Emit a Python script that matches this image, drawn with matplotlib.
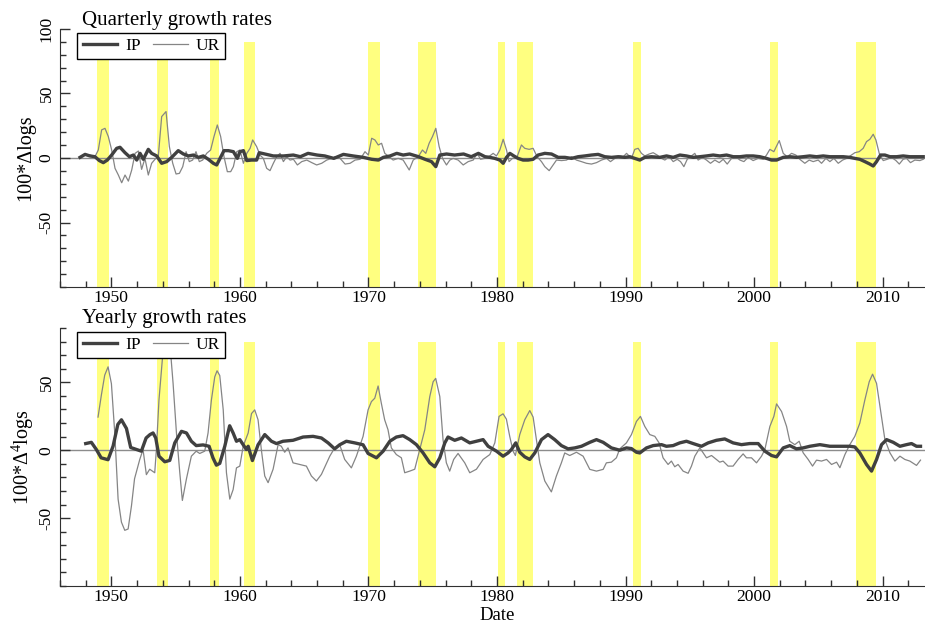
import numpy as np
import matplotlib
matplotlib.use("Agg")
import matplotlib.pyplot as plt
from matplotlib.ticker import MultipleLocator, FixedLocator

plt.rcParams['font.family'] = ['Liberation Serif', 'DejaVu Serif']
plt.rcParams['mathtext.fontset'] = 'custom'
plt.rcParams['mathtext.rm'] = 'Liberation Serif'
plt.rcParams['mathtext.it'] = 'Liberation Serif:italic'
plt.rcParams['axes.unicode_minus'] = False

# recession bands (years)
rec_start = [1948.9, 1953.52, 1957.67, 1960.3, 1969.97, 1973.87, 1980.09, 1981.52, 1990.6, 2001.23, 2007.92]
rec_end = [1949.84, 1954.38, 1958.37, 1961.18, 1970.9, 1975.24, 1980.61, 1982.81, 1991.19, 2001.83, 2009.46]

# quarterly growth rates, (year, value)
ip_q = [(1947.56, 0.5), (1947.95, 2.8), (1948.33, 1.6), (1948.72, 1.0), (1949.06, -2.0), (1949.37, -3.6),
        (1949.68, -1.6), (1950.02, 2.3), (1950.41, 7.5), (1950.67, 8.3), (1951.06, 4.1), (1951.4, 1.0),
        (1951.71, 2.3), (1951.97, -1.6), (1952.23, 3.6), (1952.48, -1.0), (1952.87, 6.7), (1953.13, 3.6),
        (1953.52, 1.6), (1953.91, -4.1), (1954.3, -2.8), (1954.69, 0.5), (1955.2, 5.7), (1955.6, 3.1),
        (1955.99, 1.6), (1956.38, 2.3), (1956.77, 0.5), (1957.15, 1.6), (1957.54, -1.0), (1957.93, -4.1),
        (1958.19, -5.4), (1958.45, -0.3), (1958.76, 5.7), (1959.1, 5.7), (1959.49, 4.9), (1959.8, -0.3),
        (1960.0, 4.9), (1960.27, 5.7), (1960.53, -2.0), (1960.9, -1.6), (1961.3, -1.6), (1961.5, 4.1),
        (1961.95, 3.1), (1962.6, 1.6), (1963.4, 1.6), (1964.15, 2.3), (1964.7, 1.0), (1965.3, 3.6),
        (1966.0, 2.3), (1966.6, 1.6), (1967.3, -0.3), (1968.05, 2.8), (1968.8, 1.6), (1969.6, 0.5),
        (1970.25, -1.0), (1970.77, -1.6), (1971.16, 0.5), (1971.68, 1.6), (1972.2, 3.6), (1972.7, 2.3),
        (1973.2, 3.1), (1973.9, 1.0), (1974.4, -1.0), (1974.9, -2.8), (1975.24, -6.7), (1975.55, 2.3),
        (1976.07, 3.1), (1976.7, 2.3), (1977.4, 3.1), (1978.0, 1.0), (1978.55, 3.6), (1979.07, 1.0),
        (1979.44, 0.5), (1979.83, -0.3), (1980.22, -1.6), (1980.48, -4.1), (1980.74, 0.5), (1981.0, 3.6),
        (1981.31, 1.6), (1981.64, -0.3), (1982.03, -1.6), (1982.42, -1.6), (1982.81, -1.0), (1983.2, 2.3),
        (1983.72, 3.6), (1984.24, 3.1), (1984.76, 0.5), (1985.28, 0.5), (1985.8, -0.3), (1986.31, 1.0),
        (1986.83, 1.6), (1987.35, 2.3), (1987.87, 2.8), (1988.39, 1.0), (1988.91, 0.5), (1989.43, 1.0),
        (1989.95, 0.5), (1990.33, 1.0), (1990.72, -0.3), (1991.11, -1.6), (1991.5, 0.5), (1992.02, 1.0),
        (1992.67, 0.5), (1993.19, 1.6), (1993.71, 0.5), (1994.23, 2.3), (1994.74, 1.6), (1995.26, 0.5),
        (1995.78, 1.0), (1996.3, 1.6), (1996.82, 2.3), (1997.34, 1.6), (1997.86, 2.3), (1998.38, 1.0),
        (1998.9, 1.0), (1999.41, 1.6), (1999.93, 1.6), (2000.45, 1.0), (2000.97, -0.3), (2001.36, -1.6),
        (2001.75, -1.6), (2002.27, 0.5), (2002.79, 1.0), (2003.3, 0.5), (2003.82, 1.0), (2004.34, 1.6),
        (2004.86, 1.0), (2005.38, 1.6), (2005.9, 1.0), (2006.42, 1.0), (2006.94, 1.0), (2007.45, 0.5),
        (2007.84, -0.3), (2008.23, -1.0), (2008.62, -2.8), (2009.01, -4.7), (2009.27, -6.2), (2009.53, -2.8),
        (2009.84, 2.3), (2010.18, 2.3), (2010.57, 1.0), (2011.09, 1.0), (2011.6, 1.6), (2012.12, 1.0),
        (2012.64, 1.0), (2013.16, 1.0)]

ur_q = [(1948.33, 2.3), (1948.72, 1.0), (1948.98, 6.2), (1949.24, 21.8), (1949.5, 23.0), (1949.76, 16.6),
        (1950.02, 6.2), (1950.28, -8.0), (1950.54, -13.2), (1950.8, -19.2), (1951.06, -13.2), (1951.32, -17.9),
        (1951.58, -9.3), (1951.84, 3.6), (1952.1, 5.4), (1952.35, -8.8), (1952.61, -0.3), (1952.87, -13.2),
        (1953.13, -4.1), (1953.39, -1.0), (1953.65, 1.6), (1953.91, 32.1), (1954.25, 36.0), (1954.51, 8.8),
        (1954.77, -4.1), (1955.03, -12.4), (1955.29, -11.9), (1955.55, -6.7), (1955.81, 4.9), (1956.06, -2.8),
        (1956.32, -1.6), (1956.58, 4.9), (1956.84, -2.8), (1957.1, -1.6), (1957.41, 3.6), (1957.72, 6.2),
        (1957.98, 16.6), (1958.24, 25.6), (1958.5, 16.6), (1958.76, 1.0), (1959.02, -10.6), (1959.28, -10.6),
        (1959.49, -6.7), (1959.75, 4.9), (1960.0, 6.2), (1960.27, -4.1), (1960.53, 3.6), (1960.79, 7.5),
        (1960.99, 14.0), (1961.3, 8.8), (1961.56, 2.3), (1961.82, -0.3), (1962.08, -8.0), (1962.34, -9.8),
        (1962.6, -4.1), (1962.86, 1.0), (1963.12, 3.6), (1963.38, -2.8), (1963.64, 1.0), (1963.9, -1.6),
        (1964.16, -1.0), (1964.47, -5.4), (1964.81, -2.8), (1965.2, -1.6), (1965.59, -3.6), (1965.97, -5.4),
        (1966.36, -4.1), (1966.75, -1.6), (1967.14, -0.3), (1967.4, 1.0), (1967.79, -0.3), (1968.18, -4.7),
        (1968.57, -4.1), (1968.96, -1.6), (1969.35, -1.0), (1969.73, 4.9), (1969.99, 2.3), (1970.25, 15.3),
        (1970.5, 14.0), (1970.76, 10.1), (1971.02, 11.4), (1971.27, 3.6), (1971.53, 1.6), (1971.92, -1.6),
        (1972.31, -0.3), (1972.7, -1.6), (1973.17, -9.3), (1973.48, -1.6), (1973.87, 1.0), (1974.2, 6.2),
        (1974.46, 3.6), (1974.72, 11.4), (1974.98, 16.6), (1975.24, 23.0), (1975.5, 8.8), (1975.76, -0.3),
        (1976.07, -5.4), (1976.33, -1.6), (1976.59, -0.3), (1976.98, -1.6), (1977.37, -5.4), (1977.76, -2.8),
        (1978.15, -1.6), (1978.46, 3.6), (1978.72, -1.0), (1979.05, -0.3), (1979.44, 1.6), (1979.7, 3.6),
        (1979.96, 1.6), (1980.22, 6.2), (1980.48, 14.5), (1980.74, 6.2), (1980.94, -2.8), (1981.2, -0.3),
        (1981.52, -0.3), (1981.9, 10.1), (1982.16, 7.5), (1982.5, 6.7), (1982.81, 7.5), (1983.12, 1.0),
        (1983.46, -2.8), (1983.72, -6.7), (1984.06, -9.8), (1984.37, -5.4), (1984.63, -1.6), (1985.02, -2.0),
        (1985.41, -1.6), (1985.8, 1.0), (1986.18, -1.6), (1986.57, -2.8), (1986.96, -4.1), (1987.35, -4.7),
        (1987.74, -3.6), (1988.13, -1.6), (1988.52, -0.3), (1988.83, -2.8), (1989.17, -0.3), (1989.56, 1.6),
        (1989.82, 1.0), (1990.08, 3.6), (1990.46, -0.3), (1990.72, 6.7), (1990.98, 7.5), (1991.24, 3.6),
        (1991.5, 1.6), (1991.84, 3.1), (1992.15, 4.1), (1992.46, 2.3), (1992.8, -0.3), (1993.06, -1.6),
        (1993.4, 1.0), (1993.71, -2.8), (1994.02, -1.0), (1994.28, -2.8), (1994.54, -6.7), (1994.8, -1.0),
        (1995.13, 1.6), (1995.39, 3.6), (1995.65, -1.6), (1995.99, 0.5), (1996.3, -1.6), (1996.61, -4.1),
        (1996.95, -1.6), (1997.29, -3.6), (1997.6, -1.0), (1997.91, -4.7), (1998.25, -0.3), (1998.58, 1.0),
        (1998.9, -1.6), (1999.21, -2.8), (1999.54, 0.5), (1999.93, -2.0), (2000.32, -0.3), (2000.71, -1.0),
        (2000.97, 2.3), (2001.23, 6.7), (2001.54, 4.9), (2001.96, 13.5), (2002.27, 3.6), (2002.58, 1.0),
        (2002.92, 3.6), (2003.25, 2.3), (2003.56, -1.0), (2003.95, -4.1), (2004.29, -1.6), (2004.6, -2.8),
        (2004.99, -1.6), (2005.25, -4.1), (2005.59, -0.3), (2005.9, -2.8), (2006.21, -0.3), (2006.55, -4.1),
        (2006.89, -1.6), (2007.2, -0.3), (2007.58, 2.3), (2007.84, 4.1), (2008.18, 4.9), (2008.49, 7.5),
        (2008.75, 12.7), (2009.01, 14.5), (2009.27, 18.4), (2009.48, 14.0), (2009.74, 3.6), (2010.05, -2.0),
        (2010.36, -1.0), (2010.7, 0.5), (2011.04, -2.0), (2011.3, -4.7), (2011.6, -1.0), (2011.86, -0.3),
        (2012.17, -3.6), (2012.51, -1.6), (2012.9, -2.0), (2013.16, -1.0)]

# yearly growth rates
ip_y = [(1948.0, 4.9), (1948.44, 5.8), (1948.83, 0.5), (1949.2, -5.6), (1949.74, -7.0), (1950.13, 3.0),
        (1950.5, 19.0), (1950.78, 22.4), (1951.17, 16.0), (1951.5, 2.0), (1951.95, 0.5), (1952.33, -0.7),
        (1952.7, 9.0), (1953.0, 11.5), (1953.24, 12.7), (1953.45, 9.0), (1953.7, -4.4), (1954.15, -8.5),
        (1954.54, -7.5), (1954.93, 5.4), (1955.45, 13.9), (1955.84, 12.7), (1956.22, 6.6), (1956.6, 3.4),
        (1957.13, 3.9), (1957.6, 2.9), (1957.9, -5.6), (1958.17, -11.0), (1958.43, -9.7), (1958.82, 2.9),
        (1959.2, 18.0), (1959.47, 12.7), (1959.73, 6.6), (1959.99, 7.8), (1960.5, 0.5), (1960.64, 2.9),
        (1960.97, -7.6), (1961.41, 4.0), (1961.93, 11.5), (1962.45, 6.6), (1962.84, 4.9), (1963.35, 6.6),
        (1964.13, 7.3), (1964.91, 9.7), (1965.69, 10.2), (1966.34, 9.0), (1966.86, 5.4), (1967.37, 1.0),
        (1967.76, 4.0), (1968.28, 6.6), (1968.93, 5.4), (1969.58, 4.0), (1969.97, -2.4), (1970.62, -5.6),
        (1971.14, -0.7), (1971.66, 6.6), (1972.17, 9.7), (1972.69, 10.7), (1973.21, 7.8), (1973.73, 4.1),
        (1974.25, -2.0), (1974.77, -9.3), (1975.16, -12.2), (1975.55, -5.6), (1975.94, 5.4), (1976.19, 9.7),
        (1976.71, 7.3), (1977.23, 9.0), (1977.88, 5.4), (1978.4, 6.6), (1978.92, 7.8), (1979.31, 2.9),
        (1979.96, -0.7), (1980.47, -4.4), (1980.86, -2.0), (1981.12, 0.5), (1981.46, 5.4), (1981.77, -1.5),
        (1982.16, -4.9), (1982.55, -6.8), (1982.94, -2.0), (1983.46, 7.8), (1983.97, 11.5), (1984.49, 7.8),
        (1985.01, 3.4), (1985.53, 1.0), (1986.05, 1.7), (1986.57, 2.9), (1987.22, 5.8), (1987.74, 7.8),
        (1988.26, 5.8), (1988.9, 1.7), (1989.55, 0.0), (1990.07, 1.7), (1990.46, 1.2), (1990.85, -1.5),
        (1991.11, -2.0), (1991.63, 1.7), (1992.15, 3.4), (1992.8, 4.1), (1993.18, 2.9), (1993.7, 3.4),
        (1994.22, 5.4), (1994.74, 6.6), (1995.26, 4.9), (1995.91, 2.9), (1996.43, 5.4), (1997.07, 7.3),
        (1997.72, 8.3), (1998.37, 5.4), (1999.02, 4.1), (1999.67, 4.9), (2000.32, 4.9), (2000.84, -0.7),
        (2001.36, -3.9), (2001.75, -4.9), (2002.27, 1.7), (2002.78, 3.4), (2003.3, 1.0), (2003.82, 1.7),
        (2004.34, 2.9), (2005.12, 4.1), (2005.9, 2.9), (2006.68, 2.9), (2007.45, 2.9), (2007.84, 2.4),
        (2008.23, -2.0), (2008.75, -10.5), (2009.14, -15.4), (2009.53, -6.8), (2009.92, 4.1), (2010.31, 7.8),
        (2010.83, 5.8), (2011.35, 2.9), (2011.86, 4.1), (2012.25, 4.9), (2012.64, 2.9), (2012.95, 2.9)]

ur_y = [(1948.96, 24.4), (1949.22, 40.7), (1949.48, 55.3), (1949.74, 61.4), (1950.0, 49.0), (1950.26, 12.7),
        (1950.52, -36.0), (1950.78, -53.0), (1951.04, -59.0), (1951.3, -58.0), (1951.56, -41.0), (1951.8, -21.0),
        (1952.2, -7.0), (1952.46, 0.5), (1952.72, -18.0), (1952.98, -14.0), (1953.37, -16.6), (1953.5, 0.5),
        (1953.7, 37.0), (1954.0, 71.0), (1954.28, 79.7), (1954.54, 79.7), (1954.8, 49.0), (1955.06, 12.7),
        (1955.32, -16.6), (1955.52, -37.0), (1955.84, -21.0), (1956.22, -4.4), (1956.6, -0.7), (1956.87, -2.4),
        (1957.26, -0.7), (1957.52, 12.7), (1957.78, 37.0), (1958.04, 54.0), (1958.22, 58.5), (1958.43, 55.0),
        (1958.7, 29.7), (1958.95, -16.6), (1959.21, -36.0), (1959.47, -29.0), (1959.73, -13.0), (1959.99, -11.7),
        (1960.25, 2.9), (1960.64, 12.7), (1960.9, 27.0), (1961.15, 29.7), (1961.41, 22.4), (1961.67, 0.0),
        (1961.93, -19.0), (1962.19, -23.9), (1962.58, -14.0), (1962.97, 4.1), (1963.22, 2.9), (1963.48, -1.5),
        (1963.74, 1.7), (1964.13, -9.3), (1964.65, -10.5), (1965.17, -11.7), (1965.56, -19.0), (1965.95, -22.7),
        (1966.34, -17.8), (1966.99, -4.4), (1967.37, 1.7), (1967.76, 4.1), (1968.15, -6.8), (1968.67, -13.0),
        (1969.06, -4.4), (1969.58, 10.2), (1969.97, 29.7), (1970.23, 35.8), (1970.49, 38.3), (1970.75, 47.3),
        (1971.0, 34.6), (1971.26, 22.4), (1971.52, 15.1), (1971.78, 1.7), (1972.17, -3.2), (1972.56, -5.6),
        (1972.82, -16.6), (1973.21, -15.4), (1973.6, -14.0), (1973.99, 0.5), (1974.38, 15.0), (1974.77, 39.5),
        (1975.03, 50.4), (1975.23, 52.9), (1975.55, 39.5), (1975.8, 7.8), (1976.06, -9.3), (1976.32, -15.4),
        (1976.63, -6.8), (1976.97, -2.4), (1977.49, -9.3), (1977.88, -16.6), (1978.4, -14.0), (1978.92, -6.8),
        (1979.44, -3.2), (1979.83, 5.4), (1980.16, 24.9), (1980.47, 26.8), (1980.73, 22.9), (1980.99, 10.2),
        (1981.25, -0.7), (1981.43, -3.9), (1981.64, 5.4), (1981.77, 11.5), (1982.16, 22.4), (1982.55, 29.2),
        (1982.81, 24.4), (1983.07, 7.8), (1983.33, -9.3), (1983.72, -22.7), (1984.23, -30.7), (1984.62, -19.0),
        (1985.01, -9.3), (1985.27, -2.0), (1985.66, -3.9), (1986.18, -1.5), (1986.7, -4.4), (1987.22, -14.1),
        (1987.74, -15.4), (1988.26, -14.1), (1988.51, -9.3), (1988.9, -8.8), (1989.29, -5.6), (1989.55, 1.0),
        (1990.07, 5.4), (1990.46, 11.5), (1990.85, 21.2), (1991.16, 24.9), (1991.5, 17.5), (1991.89, 11.5),
        (1992.28, 10.2), (1992.61, 5.4), (1992.92, -5.6), (1993.31, -10.5), (1993.57, -8.0), (1993.83, -12.2),
        (1994.09, -10.5), (1994.48, -15.4), (1994.87, -17.0), (1995.13, -11.7), (1995.39, -4.4), (1995.78, 1.7),
        (1996.04, -2.0), (1996.3, -5.6), (1996.69, -3.9), (1997.07, -6.8), (1997.33, -8.8), (1997.59, -8.0),
        (1997.98, -11.7), (1998.37, -11.7), (1998.76, -6.8), (1999.15, -2.7), (1999.41, -5.6), (1999.8, -5.6),
        (2000.19, -9.3), (2000.58, -4.4), (2000.84, 0.5), (2001.23, 17.5), (2001.54, 24.9), (2001.75, 34.1),
        (2002.14, 28.5), (2002.53, 17.5), (2002.78, 6.6), (2003.17, 4.1), (2003.51, 6.6), (2003.82, -1.9),
        (2004.21, -6.8), (2004.55, -11.7), (2004.86, -7.3), (2005.25, -8.0), (2005.64, -6.8), (2006.03, -10.5),
        (2006.42, -8.8), (2006.68, -12.9), (2007.07, -3.2), (2007.45, 4.1), (2007.84, 10.2), (2008.23, 20.0),
        (2008.62, 37.0), (2008.96, 50.4), (2009.22, 56.0), (2009.53, 49.2), (2009.84, 29.7), (2010.18, 7.8),
        (2010.57, -1.9), (2010.96, -8.0), (2011.35, -4.4), (2011.73, -6.8), (2012.12, -8.0), (2012.64, -11.2),
        (2012.95, -7.3)]

ip_col = '#404040'
ur_col = '#858585'
band_col = '#ffff80'

fig = plt.figure(figsize=(9.25, 6.25), dpi=100)
ax1 = fig.add_axes([60/925, 1 - 287/625, 865/925, 258/625])
ax2 = fig.add_axes([60/925, 1 - 586/625, 865/925, 258/625])


def panel(ax, ip, ur, ytop, band_top, yticks, ylabel):
    ax.bar(rec_start, band_top + 100, bottom=-100, width=np.array(rec_end) - np.array(rec_start),
           align='edge', color=band_col, lw=0, zorder=0)
    ax.axhline(0, color='#8c8c8c', lw=1.0, zorder=1)
    x, y = np.array(ur).T
    ax.plot(x, y, color=ur_col, lw=0.9, zorder=2, label='UR')
    x, y = np.array(ip).T
    ax.plot(x, y, color=ip_col, lw=2.4, zorder=3, label='IP')
    ax.set_xlim(1946, 2013.3)
    ax.set_ylim(-100, ytop)
    ax.xaxis.set_major_locator(MultipleLocator(10))
    ax.xaxis.set_minor_locator(MultipleLocator(2))
    ax.yaxis.set_major_locator(FixedLocator(yticks))
    ax.yaxis.set_minor_locator(MultipleLocator(10))
    for s in ['top', 'right']:
        ax.spines[s].set_visible(False)
    ax.spines['left'].set_color('#303030')
    ax.spines['bottom'].set_color('#303030')
    ax.tick_params(which='both', direction='in', color='#303030', labelsize=12.6)
    ax.tick_params(which='major', length=7, width=1)
    ax.tick_params(which='minor', length=4, width=1)
    ax.tick_params(axis='y', pad=4)
    ax.tick_params(axis='x', pad=2)
    for lab in ax.get_yticklabels():
        lab.set_rotation(90)
        lab.set_va('center')
    ax.set_ylabel(ylabel, fontsize=14.5, labelpad=2)
    h, l = ax.get_legend_handles_labels()
    leg = ax.legend(h[::-1], l[::-1], loc='upper left', bbox_to_anchor=(0.02, 0.985), ncol=2,
                    fontsize=12.5, frameon=True, fancybox=False, edgecolor='black', framealpha=1,
                    handlelength=2.0, columnspacing=0.7, handletextpad=0.45, borderpad=0.3,
                    borderaxespad=0)
    leg.get_frame().set_linewidth(1.0)


panel(ax1, ip_q, ur_q, 100, 90, [-50, 0, 50, 100], '100*Δlogs')
panel(ax2, ip_y, ur_y, 90, 80, [-50, 0, 50], '100*Δ$^{4}$logs')

fig.text(497/925, 1 - 620.5/625, 'Date', fontsize=13.5, ha='center', va='baseline')
fig.text(82/925, 1 - 25/625, 'Quarterly growth rates', fontsize=15, va='baseline')
fig.text(82/925, 1 - 323/625, 'Yearly growth rates', fontsize=15, va='baseline')

fig.savefig('out.png', dpi=100)
